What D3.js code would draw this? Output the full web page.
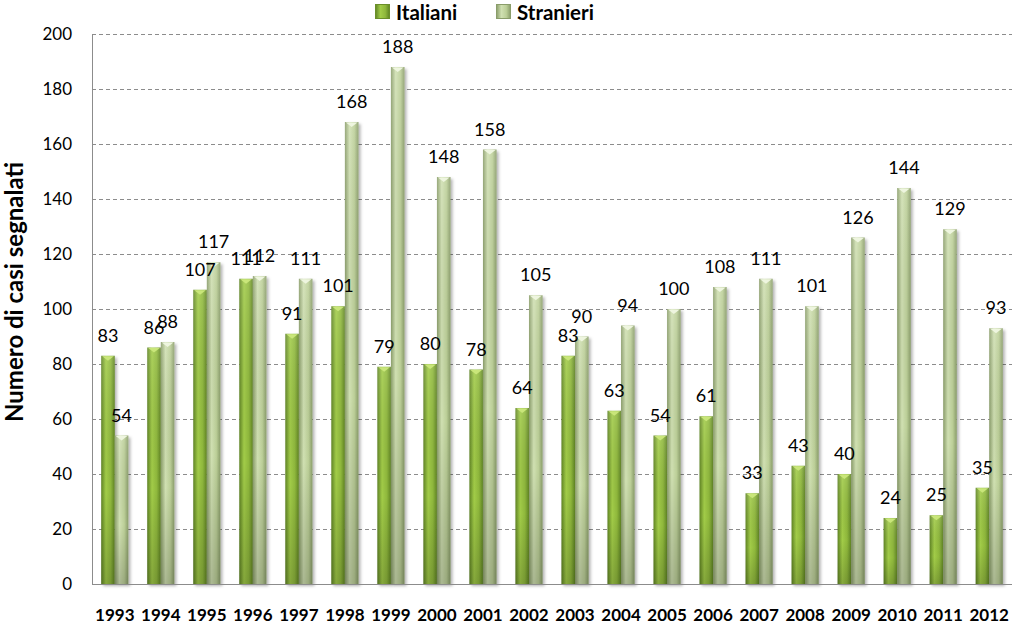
<!DOCTYPE html>
<html>
<head>
<meta charset="utf-8">
<script src="https://cdn.jsdelivr.net/npm/d3@7"></script>
<style>
  body { margin: 0; background: #fff; }
  svg { display: block; font-family: Lato, "Open Sans", sans-serif; }
</style>
</head>
<body>
<script>
const years = ["1993","1994","1995","1996","1997","1998","1999","2000","2001","2002",
               "2003","2004","2005","2006","2007","2008","2009","2010","2011","2012"];
const italiani  = [83,86,107,111,91,101,79,80,78,64,83,63,54,61,33,43,40,24,25,35];
const stranieri = [54,88,117,112,111,168,188,148,158,105,90,94,100,108,111,101,126,144,129,93];
const seriesNames = ["Italiani", "Stranieri"];
const yTicks = [0,20,40,60,80,100,120,140,160,180,200];

const width = 1013, height = 624;
const margin = {top: 34, right: 1, bottom: 40, left: 92};

const svg = d3.select("body").append("svg")
  .attr("width", width).attr("height", height);

const defs = svg.append("defs");
function cyl(id, edge, mid, light) {
  const g = defs.append("linearGradient").attr("id", id).attr("x1", 0).attr("x2", 1).attr("y1", 0).attr("y2", 0);
  g.append("stop").attr("offset", "0%").attr("stop-color", edge);
  g.append("stop").attr("offset", "35%").attr("stop-color", light);
  g.append("stop").attr("offset", "70%").attr("stop-color", mid);
  g.append("stop").attr("offset", "100%").attr("stop-color", edge);
}
cyl("gIt", "#5f8424", "#8fb83c", "#a2cc48");
cyl("gSt", "#8a9d6a", "#bccf98", "#d0e0b2");
const shade = defs.append("linearGradient").attr("id", "shade").attr("x1", 0).attr("x2", 0).attr("y1", 0).attr("y2", 1);
shade.append("stop").attr("offset", "0%").attr("stop-color", "#fff").attr("stop-opacity", 0.12);
shade.append("stop").attr("offset", "60%").attr("stop-color", "#000").attr("stop-opacity", 0.0);
shade.append("stop").attr("offset", "100%").attr("stop-color", "#000").attr("stop-opacity", 0.18);
const f = defs.append("filter").attr("id", "sh").attr("x", "-50%").attr("y", "-10%").attr("width", "200%").attr("height", "130%");
f.append("feDropShadow").attr("dx", 2).attr("dy", 2).attr("stdDeviation", 1.5)
  .attr("flood-color", "#000").attr("flood-opacity", 0.3);

const x = d3.scaleBand().domain(years).range([margin.left, width - margin.right]).paddingInner(0.41).paddingOuter(0.2);
const xs = d3.scaleBand().domain(seriesNames).range([0, x.bandwidth()]);
const y = d3.scaleLinear().domain([0, 200]).range([height - margin.bottom, margin.top]);

// grid
svg.append("g").selectAll("line").data(yTicks.filter(d => d > 0)).join("line")
  .attr("x1", margin.left).attr("x2", width - margin.right)
  .attr("y1", d => Math.round(y(d)) + 0.5).attr("y2", d => Math.round(y(d)) + 0.5)
  .attr("stroke", "#8c8c8c").attr("stroke-dasharray", "4,3");

// y axis labels
svg.append("g").selectAll("text").data(yTicks).join("text")
  .attr("x", 72).attr("y", d => y(d)).attr("dy", "0.36em")
  .attr("text-anchor", "end").attr("font-size", 17).attr("fill", "#000")
  .text(d => d);

svg.append("text")
  .attr("transform", `translate(23,${(margin.top + height - margin.bottom) / 2 - 17}) rotate(-90)`)
  .attr("text-anchor", "middle").attr("font-size", 24).attr("font-weight", "bold")
  .text("Numero di casi segnalati");

const data = years.map((yr, i) => ({year: yr, vals: [
  {s: "Italiani", v: italiani[i], fill: "url(#gIt)", cap: "#c9e67a"},
  {s: "Stranieri", v: stranieri[i], fill: "url(#gSt)", cap: "#eef5df"}
]}));

const groups = svg.append("g").selectAll("g").data(data).join("g")
  .attr("transform", d => `translate(${x(d.year)},0)`);

const bars = groups.selectAll("g").data(d => d.vals).join("g");
bars.append("rect")
  .attr("x", d => xs(d.s)).attr("width", xs.bandwidth())
  .attr("y", d => y(d.v)).attr("height", d => y(0) - y(d.v))
  .attr("fill", d => d.fill).attr("filter", "url(#sh)");
bars.append("rect")
  .attr("x", d => xs(d.s)).attr("width", xs.bandwidth())
  .attr("y", d => y(d.v)).attr("height", d => y(0) - y(d.v))
  .attr("fill", "url(#shade)");
bars.append("path")
  .attr("d", d => {
    const x0 = xs(d.s) + 1, x1 = xs(d.s) + xs.bandwidth() - 1, t = y(d.v);
    return `M${x0},${t + 0.5}L${x1},${t + 0.5}L${(x0 + x1) / 2},${t + 5}Z`;
  })
  .attr("fill", d => d.cap);

// axes lines
svg.append("line").attr("x1", margin.left + 0.5).attr("x2", margin.left + 0.5)
  .attr("y1", margin.top).attr("y2", y(0)).attr("stroke", "#8c8c8c");
svg.append("line").attr("x1", margin.left).attr("x2", width - margin.right)
  .attr("y1", y(0) + 0.5).attr("y2", y(0) + 0.5).attr("stroke", "#8c8c8c");

// value labels on top of everything
const labels = svg.append("g").selectAll("g").data(data).join("g")
  .attr("transform", d => `translate(${x(d.year)},0)`);
labels.selectAll("text").data(d => d.vals).join("text")
  .attr("x", d => xs(d.s) + xs.bandwidth() / 2).attr("y", d => y(d.v) - 14)
  .attr("text-anchor", "middle").attr("font-size", 18).attr("fill", "#000")
  .text(d => d.v);

// year labels
svg.append("g").selectAll("text").data(years).join("text")
  .attr("x", d => x(d) + x.bandwidth() / 2).attr("y", 621)
  .attr("text-anchor", "middle").attr("font-size", 17).attr("font-weight", "bold")
  .text(d => d);

// legend
const legX = [375, 496];
const leg = svg.append("g").selectAll("g").data(seriesNames).join("g")
  .attr("transform", (d, i) => `translate(${legX[i]},4)`);
leg.append("rect").attr("width", 14).attr("height", 14).attr("y", 0.5).attr("x", 0.5)
  .attr("fill", (d, i) => i === 0 ? "url(#gIt)" : "url(#gSt)")
  .attr("stroke", (d, i) => i === 0 ? "#6b8f2a" : "#8a9d6a");
leg.append("text").attr("x", 21).attr("y", 15.5)
  .attr("font-size", 20.5).attr("font-weight", "bold").text(d => d);
</script>
</body>
</html>
